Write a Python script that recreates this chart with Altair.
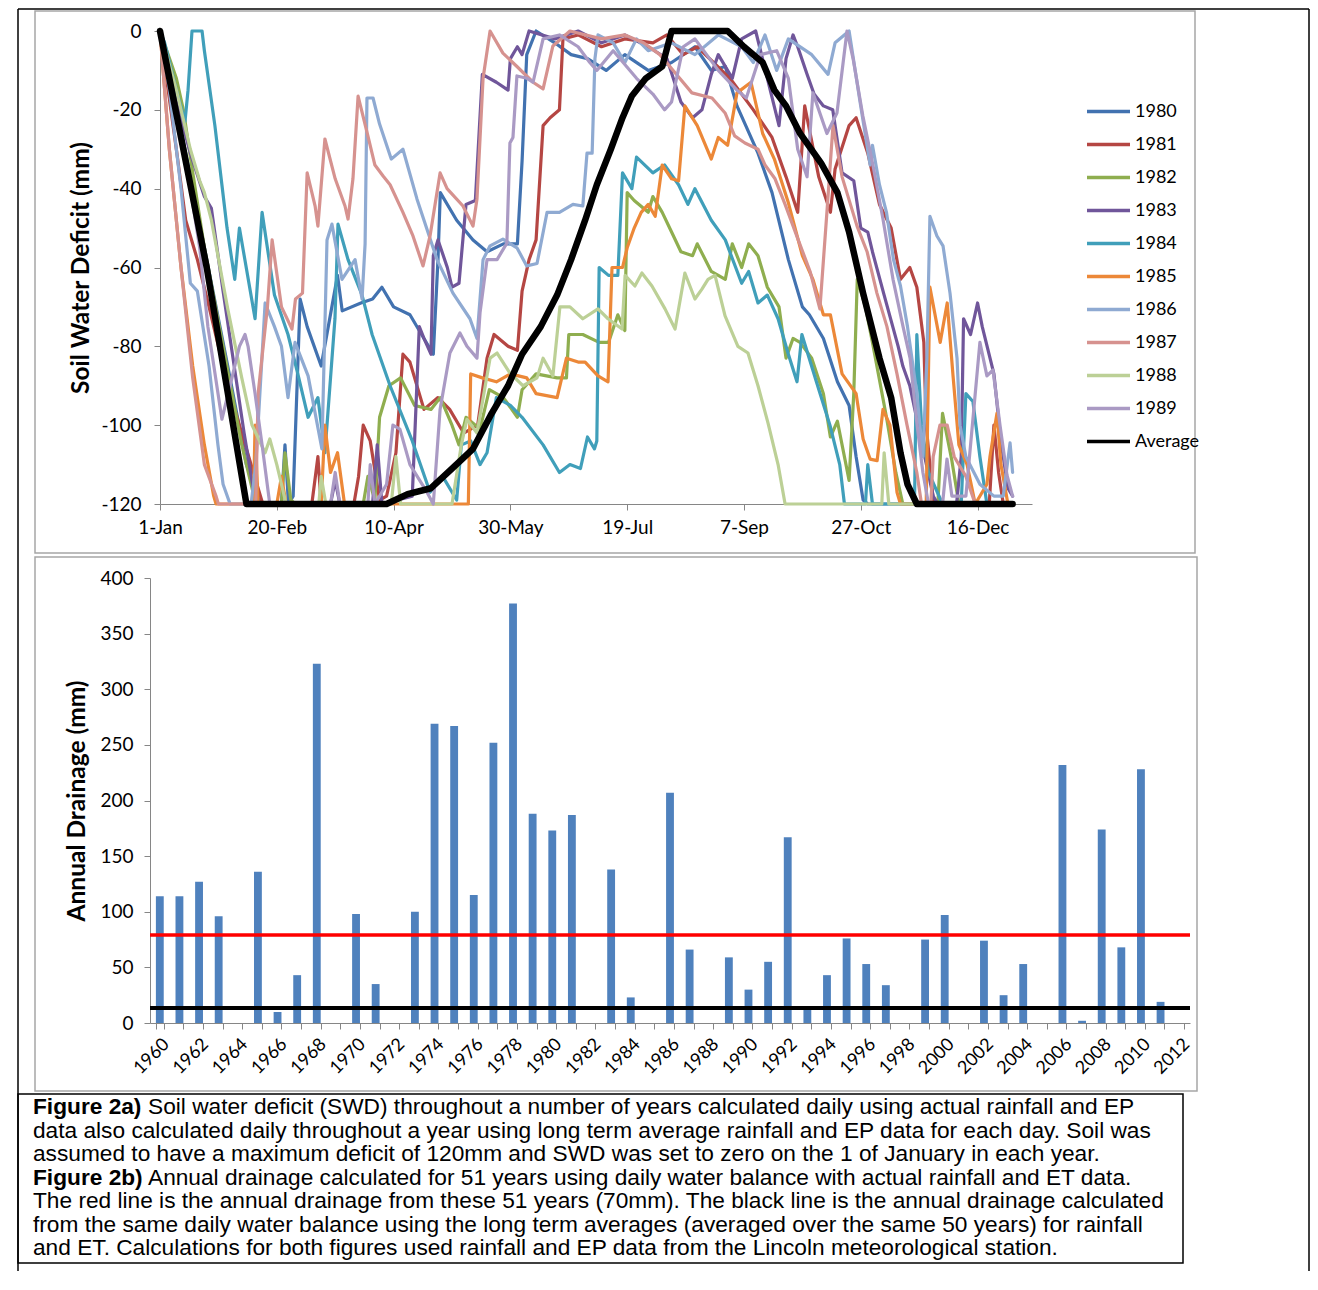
import altair as alt
import pandas as pd

FONT = "Lato"
GRAY = "#868686"

# ---------------- Figure 2a data (day of year, soil water deficit mm) ----------------
series_names = ["1980", "1981", "1982", "1983", "1984", "1985", "1986", "1987", "1988", "1989", "Average"]
series_colors = ["#4272B0", "#B54643", "#8FAE4F", "#70569A", "#409FBA", "#EC8838",
                 "#8FAAD2", "#D6928F", "#BCD096", "#AA9AC4", "#000000"]

tick_days = [1, 51, 101, 151, 201, 251, 301, 351]
tick_labels = ["1-Jan", "20-Feb", "10-Apr", "30-May", "19-Jul", "7-Sep", "27-Oct", "16-Dec"]
swd_ticks = [-120, -100, -80, -60, -40, -20, 0]

d1980 = [1, 10, 20, 30, 38, 44, 53, 54.5, 56, 58, 61, 64, 70, 77, 79, 87, 92, 96, 101, 108, 114, 118, 120, 121, 128, 135, 141, 148, 154, 156, 158, 162, 170, 177, 184, 192, 200, 210, 220, 230, 237, 243, 248, 257, 263, 270, 276, 279, 285, 291, 296, 299, 302, 304, 366]
v1980 = [0, -25, -55, -85, -110, -120, -120, -105, -120, -118, -68, -75, -85, -62, -71, -69, -68, -65, -70, -72, -78, -82, -58, -41, -48, -53, -56, -54, -54, -33, -6, 0, -3, -6, -7, -10, -6, -10, -8, -4, -10, -9, -19, -31, -41, -58, -70, -72, -78, -89, -95, -108, -119, -120, -120]

d1981 = [1, 8, 12, 17, 22, 30, 40, 45, 66, 68.6, 70, 84, 86, 88, 91, 95, 98, 102, 105, 108, 114, 120, 125, 131, 137, 141, 144, 150, 154, 156, 159, 162, 165, 168, 172, 173.5, 180, 190, 200, 212, 218, 225, 231, 245, 255, 263, 269, 274, 277, 283, 288, 290, 296, 299, 304, 309, 314, 318, 322, 325, 328, 329, 332, 334, 356, 358, 360, 362, 366]
v1981 = [0, -30, -48, -58, -70, -90, -110, -120, -120, -108, -120, -120, -113, -100, -104, -119, -118, -107, -82, -84, -96, -93, -96, -102, -100, -83, -77, -80, -81, -66, -58, -53, -24, -22, -20, -2, -1, -4, -2, -3, -1, -6, -4, -12, -20, -27, -37, -46, -19, -37, -46, -35, -24, -22, -31, -44, -50, -63, -60, -65, -79, -100, -119, -120, -120, -100, -112, -120, -120]

d1982 = [1, 8, 11, 14, 20, 28, 36, 42, 53, 54.5, 57, 59, 88, 90, 93, 95, 99, 104, 110, 117, 121, 126, 129, 132, 138, 142, 148, 154, 156, 162, 171, 175, 176, 182, 189, 193, 197, 200, 201, 204, 210, 212, 216, 220, 224, 229, 231, 237, 240, 243, 246, 250, 253, 257, 261, 266, 269, 272, 275, 280, 285, 288, 291, 296, 298, 299.5, 303, 306, 312, 316, 319, 334, 336, 340, 343, 366]
v1982 = [0, -12, -20, -32, -55, -80, -105, -120, -120, -107, -119, -120, -120, -113, -119, -98, -90, -88, -95, -96, -93, -100, -105, -98, -101, -91, -93, -98, -91, -87, -88, -88, -77, -77, -79, -79, -72, -76, -41, -43, -46, -42, -46, -51, -56, -57, -54, -61, -62, -63, -54, -60, -54, -57, -65, -70, -83, -78, -79, -83, -92, -103, -99, -114, -92, -63, -70, -79, -98, -112, -120, -120, -97, -109, -120, -120]

d1983 = [1, 8, 14, 20, 23, 28, 37, 42, 74, 76, 78, 92, 94, 96, 109, 112, 114, 117, 118, 120, 124, 126, 129, 132, 136, 139, 145, 150, 151, 154, 156, 159, 170, 180, 190, 200, 210, 218, 224, 229, 233, 237, 240, 246, 250, 256, 261, 266, 269, 272, 274, 278, 281, 285, 289, 293, 298, 301, 304, 306, 311, 317, 319, 322, 328, 332, 334, 342, 344, 345, 348, 351, 353, 358, 361, 364, 366]
v1983 = [0, -18, -31, -42, -45, -66, -102, -120, -120, -114, -120, -120, -105, -120, -118, -75, -78, -82, -57, -53, -60, -65, -64, -44, -43, -11, -13, -15, -7, -4, -6, 0, -2, 0, -3, -1, -4, -7, -18, -22, -20, -11, -6, -12, -2, 0, -12, -24, -7, -1, -4, -11, -16, -19, -20, -36, -38, -50, -51, -56, -67, -80, -85, -90, -107, -118, -120, -120, -108, -73, -77, -69, -75, -87, -104, -116, -118]

d1984 = [1, 3, 8, 11.7, 13, 14.7, 19, 20, 24.5, 27.5, 29.7, 33, 35, 41.7, 44.7, 50, 55.8, 60, 64.4, 68.6, 71.6, 75.9, 77.2, 81.5, 87.5, 91.8, 99.5, 109, 116.6, 122, 128, 130, 134, 138, 141, 145, 151, 156, 165, 172, 176.5, 181, 184, 187, 188, 189, 193, 197, 199, 203, 205, 212, 217, 223, 227, 230, 237, 243, 250, 253, 257, 261, 265.6, 270, 273.7, 275.8, 282, 287.8, 292, 294, 303, 304, 306, 324, 325, 327, 330, 336, 344, 346, 349, 352, 355, 366]
v1984 = [0, -3, -15, -23, -15, 0, 0, -5, -24, -39, -50, -63, -50, -73, -46, -67, -77, -87, -98, -93, -107, -73, -49, -58, -67, -77, -90, -104, -117, -113, -119, -105, -104, -110, -107, -93, -95, -98, -105, -112, -110, -111, -103, -106, -104, -60, -62, -62, -36, -40, -32, -36, -34, -39, -44, -40, -48, -53, -64, -61, -69, -67, -73, -82, -89, -77, -89, -100, -110, -120, -120, -110, -120, -120, -77, -100, -112, -120, -120, -92, -94, -108, -120, -120]

d1985 = [1, 5, 10, 15, 20, 24, 25, 41, 41.7, 43, 51, 53, 55, 70, 71.6, 74, 77, 80, 133, 134, 139, 145, 151, 158, 162, 171, 175, 180, 183, 188.5, 192.8, 194.5, 199, 201, 204, 207, 210, 213, 216, 220, 223, 225.7, 231, 237, 240, 244, 248, 254, 259, 264, 270, 276, 280.5, 285, 288, 293, 299, 302, 305, 308, 310.5, 313.5, 316.5, 318, 329, 330.6, 335, 338, 340.5, 343, 346.5, 350, 355, 356.3, 359.3, 361, 364, 366]
v1985 = [0, -30, -60, -85, -105, -118, -120, -120, -100, -120, -120, -113, -120, -120, -100, -112, -107, -120, -120, -87, -88, -89, -87, -88, -92, -93, -83, -84, -84, -87.5, -89, -60, -60, -55, -50, -46, -44, -47, -34, -37.5, -38, -19, -24, -32.5, -27, -29, -15.7, -13, -26, -32.5, -43.6, -57, -63, -72, -72, -87, -92, -103.5, -108.6, -109, -96, -100, -117, -120, -120, -65, -79, -69, -87.5, -105, -110, -120, -115, -108, -97, -110, -120, -120]

d1986 = [1, 5, 10, 14, 17, 22, 25.8, 28, 31, 40, 42, 46, 50, 53, 55.8, 58.8, 64.4, 70.3, 72.5, 74.6, 78.9, 84.5, 87.5, 88.8, 89.6, 92.2, 95, 100, 105, 111, 119.6, 126.4, 133.7, 136.7, 139.3, 142.3, 147.8, 153.8, 158, 162.4, 166.7, 172, 177.8, 182, 183.8, 186, 187.2, 188.5, 195, 200, 205, 210, 220, 230, 240, 250, 255, 260, 265, 270, 280, 287, 290, 296, 300.7, 305, 306, 309, 312, 315, 318, 321, 325, 327.6, 329.3, 330.6, 333.6, 336.2, 339.2, 342.2, 343.5, 346, 352, 358, 362, 364.9, 366]
v1986 = [0, -15, -40, -64, -66, -85, -105, -115, -120, -120, -110, -69, -75, -80, -93, -79, -87.5, -106, -53, -49, -63, -58, -68, -54, -17, -17, -23.6, -32.5, -30, -42.6, -58, -66.5, -73, -78, -58, -54.5, -52.8, -55, -59.6, -59, -46, -46, -44, -44.4, -31, -31, -7, -1, -3, -8, -2, -5, -3, -6, -1, -4, -8, -1, -10, -2, -6, -11, -3, 0, -18, -34, -29, -39, -46, -58, -64.7, -75, -92, -108, -83, -47, -52, -54.5, -66.5, -83, -100, -108, -115, -118, -118, -104.5, -112]

d1987 = [1, 5, 10, 15, 20, 25, 26, 42, 43, 47, 49, 53, 57.5, 59, 62, 64, 67.4, 68.6, 71.6, 76, 80.2, 81.5, 83.6, 85.8, 90, 93, 96.5, 99.5, 105, 109.3, 113.6, 116.6, 120.9, 123.9, 130.7, 135, 136.7, 139.3, 142.3, 147.8, 153.8, 160.7, 165, 169.2, 176.5, 190, 200, 208, 215, 221.5, 228.7, 237.3, 242.9, 247, 251.4, 257, 260, 264.3, 268.6, 274.1, 279.3, 283.5, 286.5, 289.1, 293, 299.4, 303.7, 307.9, 312.2, 316.5, 320.8, 325, 327, 331, 332, 334.9, 338, 341, 346, 350, 366]
v1987 = [0, -30, -60, -88, -110, -118, -120, -120, -92, -70, -53, -70, -75.6, -68, -66.5, -36, -44.4, -49.5, -27.4, -37.5, -44.4, -47.7, -37.5, -16.5, -26.6, -34, -36.8, -39, -46, -52, -59.6, -52, -36, -40, -44.4, -49.5, -42.6, -12, 0, -5.6, -9, -13, -14.7, -3.8, 0, -2, -1, -3, -6, -10.6, -15.7, -17, -20.8, -26.6, -28.4, -30, -34, -37.5, -44, -52.8, -61, -70.5, -46, -24, -37, -49.5, -56, -66.5, -75, -87, -100, -112, -120, -120, -108, -100, -100, -108, -113, -120, -120]

d1988 = [1, 8, 14, 18, 20, 23, 30, 36, 40.4, 46, 48, 51, 55, 69, 70, 72, 100, 102, 104, 126, 130, 132.4, 136.7, 142.3, 145.3, 150.8, 156.4, 162.4, 165, 169.2, 172.2, 176.5, 182, 188.5, 192.8, 198.8, 200.1, 204.3, 207.3, 211.6, 217.2, 221.5, 225.7, 230, 233, 235.6, 238.6, 242.9, 248.4, 252.7, 257, 261.3, 265.6, 268.6, 310, 311, 313, 366]
v1988 = [0, -15, -30, -38, -41, -48, -70.5, -88, -100, -107, -103.5, -110, -120, -120, -113, -120, -120, -108, -120, -120, -105, -98.5, -102, -83, -81.7, -86.8, -90, -88, -83, -87.5, -70, -70, -73, -70.5, -73, -75.6, -62, -64.7, -61.4, -64.7, -70.5, -75.6, -61.4, -68, -65.5, -63, -62, -72.3, -80, -81.7, -90, -99.5, -110, -120, -120, -107, -120, -120]

d1989 = [1, 8, 14, 18, 21.5, 27.5, 31, 35, 37.4, 38.7, 41.7, 44.7, 48, 74, 76, 78, 90, 91, 93, 98, 100.7, 103.7, 108, 115.3, 118, 120.9, 125.1, 129.4, 132.4, 136.7, 138, 141, 145.3, 149.5, 150.8, 152.1, 153.8, 158.1, 160.7, 165, 172, 180, 185, 188, 195, 205, 212, 217, 220, 225, 230, 240, 248, 252, 258, 265, 270, 274, 278, 280.5, 286.5, 290.8, 295.1, 297.7, 301.9, 306.2, 310.5, 314.8, 319.1, 322.1, 325.1, 327.6, 330, 336, 337.9, 340, 346, 352, 355, 357.6, 360.6, 363.6, 366]
v1989 = [0, -20, -40, -55, -75, -98.5, -90, -80, -77, -80, -92, -105, -120, -120, -112, -120, -120, -110, -120, -115, -100, -101, -110, -117, -120, -96, -81.7, -76.6, -80, -83, -71.5, -58, -58, -53.8, -28.4, -27, -11.4, -12, -13, -2, -1, -4, -8, -10, -5, -12, -16, -20, -18, -4, -2, -10, -15, -17, -6, -5, -12, -30, -37, -15.7, -26, -20.8, 0, -7, -21.6, -34, -47.7, -63, -75, -83, -100, -112, -120, -120, -108.6, -118, -118, -79, -87.5, -86, -100, -112.7, -118]

d_avg = [1, 21, 38, 98, 107, 117, 126, 135, 143, 150, 156, 164, 171, 177, 183, 188, 194, 199, 203, 209, 216, 220, 244, 251, 259, 264, 269, 275, 284, 291, 296, 302, 309, 314, 318, 321, 325, 366]
v_avg = [0, -60, -120, -120, -117.5, -116, -111, -106, -97, -90, -82, -75, -67, -58, -48, -39, -30, -22, -16.5, -12, -9, 0, 0, -4, -8, -15, -19, -26, -33.5, -41, -51, -66.5, -83, -93, -107, -115, -120, -120]

# ---------------- Figure 2b data ----------------
years = ["1960", "1961", "1962", "1963", "1964", "1965", "1966", "1967", "1968", "1969",
         "1970", "1971", "1972", "1973", "1974", "1975", "1976", "1977", "1978", "1979",
         "1980", "1981", "1982", "1983", "1984", "1985", "1986", "1987", "1988", "1989",
         "1990", "1991", "1992", "1993", "1994", "1995", "1996", "1997", "1998", "1999",
         "2000", "2001", "2002", "2003", "2004", "2005", "2006", "2007", "2008", "2009",
         "2010", "2011", "2012"]
drainage = [114, 114, 127, 96, 0, 136, 10, 43, 323, 0,
            98, 35, 0, 100, 269, 267, 115, 252, 377, 188,
            173, 187, 0, 138, 23, 0, 207, 66, 0, 59,
            30, 55, 167, 12, 43, 76, 53, 34, 0, 75,
            97, 0, 74, 25, 53, 0, 232, 2, 174, 68,
            228, 19, 0]
drain_ticks = [0, 50, 100, 150, 200, 250, 300, 350, 400]
mean_drainage = [79]
longterm_drainage = [13.5]

caption_lines = [
    "Soil water deficit (SWD) throughout a number of years calculated daily using actual rainfall and EP",
    "data also calculated daily throughout a year using long term average rainfall and EP data for each day. Soil was",
    "assumed to have a maximum deficit of 120mm and SWD was set to zero on the 1 of January in each year.",
    "Annual drainage calculated for 51 years using daily water balance with actual rainfall and ET data.",
    "The red line is the annual drainage from these 51 years (70mm). The black line is the annual drainage calculated",
    "from the same daily water balance using the long term averages (averaged over the same 50 years) for rainfall",
    "and ET. Calculations for both figures used rainfall and EP data from the Lincoln meteorological station.",
]
caption_bold = ["Figure 2a)", "Figure 2b)"]
caption_bold_lines = [0, 3]

# ---------------- build tables ----------------
day_lists = [d1980, d1981, d1982, d1983, d1984, d1985, d1986, d1987, d1988, d1989]
val_lists = [v1980, v1981, v1982, v1983, v1984, v1985, v1986, v1987, v1988, v1989]
rows = []
for name, ds, vs in zip(series_names[:10], day_lists, val_lists):
    for d, v in zip(ds, vs):
        rows.append({"series": name, "day": d, "swd": v})
years_df = pd.DataFrame(rows)
avg_df = pd.DataFrame({"series": "Average", "day": d_avg, "swd": v_avg})

bars_df = pd.DataFrame({"year": years, "drain": drainage})
cap_df = pd.DataFrame({"idx": list(range(len(caption_lines))), "text": caption_lines})
bold_df = pd.DataFrame({"idx": caption_bold_lines, "text": caption_bold})
one = pd.DataFrame({"k": [0]})

label_js = "[" + ",".join("'" + t + "'" for t in tick_labels) + "]"


def vline(x, y1, y2, color="black", w=1.5):
    return alt.Chart(one).mark_rule(color=color, strokeWidth=w).encode(
        x=alt.value(x), y=alt.value(y1), y2=alt.value(y2))


def hline(y, x1, x2, color="black", w=1.5):
    return alt.Chart(one).mark_rule(color=color, strokeWidth=w).encode(
        y=alt.value(y), x=alt.value(x1), x2=alt.value(x2))


def box(x1, x2, y1, y2, color, w):
    return alt.Chart(one).mark_rect(fillOpacity=0, stroke=color, strokeWidth=w).encode(
        x=alt.value(x1), x2=alt.value(x2), y=alt.value(y1), y2=alt.value(y2))


# All three panels share the same origin x (page x = 150); flush layout.
# ---------------- top chart (origin at page 150,30) ----------------
leg = alt.Legend(orient="none", legendX=935, legendY=57, title=None, symbolType="stroke",
                 symbolSize=1849, labelFont=FONT, labelFontSize=18, labelColor="black",
                 rowPadding=-1.2, labelOffset=3, symbolStrokeWidth=3.5)

xenc = alt.X("day:Q", scale=alt.Scale(domain=[1, 374.3], nice=False, zero=False, range=[10, 882]),
             axis=alt.Axis(values=tick_days, labelExpr=label_js + "[round((datum.value-1)/50)]",
                           title=None, grid=False, domainColor=GRAY, tickColor=GRAY, tickSize=6,
                           labelFont=FONT, labelFontSize=19, labelColor="black", labelPadding=8,
                           labelFlush=False, labelOverlap=False))
yenc = alt.Y("swd:Q", scale=alt.Scale(domain=[-120, 0], nice=False),
             axis=alt.Axis(values=swd_ticks, labelExpr="datum.value < 0 ? '-' + (-datum.value) : '0'",
                           title="Soil Water Deficit (mm)", titleFont=FONT, titleFontSize=24.5,
                           titleFontWeight="bold", titleColor="black", titlePadding=7, offset=-10,
                           grid=False, domainColor=GRAY, tickColor=GRAY, tickSize=6,
                           labelFont=FONT, labelFontSize=19, labelColor="black", labelPadding=13))
cenc = alt.Color("series:N", scale=alt.Scale(domain=series_names, range=series_colors), legend=leg)

year_lines = alt.Chart(years_df).mark_line(strokeWidth=3.2, strokeJoin="round", strokeCap="round").encode(
    x=xenc, y=yenc, color=cenc)
avg_line = alt.Chart(avg_df).mark_line(strokeWidth=6.5, strokeJoin="round", strokeCap="round").encode(
    x=xenc, y=yenc, color=cenc)

top = alt.layer(
    vline(-132, -22, 1240), vline(1159, -22, 1240), hline(-22, -132, 1159),
    box(-115, 1045, -20, 522, "#A6A6A6", 1.5),
    year_lines, avg_line,
).properties(width=882, height=473)

# ---------------- bottom chart (origin at page 150,577) ----------------
bars = alt.Chart(bars_df).mark_bar(color="#4F81BD").encode(
    x=alt.X("year:N", sort=None, scale=alt.Scale(paddingInner=0.6, paddingOuter=0.3),
            axis=alt.Axis(title=None, tickBand="extent", labelExpr="parseInt(datum.value) % 2 == 0 ? datum.label : ''",
                          labelAngle=-45, labelAlign="right", labelBaseline="top", labelPadding=6,
                          labelFont=FONT, labelFontSize=18, labelColor="black", domainColor=GRAY,
                          tickColor=GRAY, tickSize=6, labelOverlap=False)),
    y=alt.Y("drain:Q", scale=alt.Scale(domain=[0, 400], nice=False),
            axis=alt.Axis(values=drain_ticks, title="Annual Drainage (mm)", titleFont=FONT, titleFontSize=24.5,
                          titleFontWeight="bold", titleColor="black", titlePadding=10, grid=False,
                          domainColor=GRAY, tickColor=GRAY, tickSize=6, labelFont=FONT, labelFontSize=19,
                          labelColor="black", labelPadding=11)),
)
red = alt.Chart(pd.DataFrame({"v": mean_drainage})).mark_rule(color="#FF0000", strokeWidth=3.5).encode(y="v:Q")
blk = alt.Chart(pd.DataFrame({"v": longterm_drainage})).mark_rule(color="#000000", strokeWidth=4).encode(y="v:Q")

bottom = alt.layer(
    box(-115, 1047, -21, 513, "#A6A6A6", 1.5),
    bars, red, blk,
).properties(width=1040, height=445)

# ---------------- caption (origin at page 150,1096) ----------------
ypos = alt.Y("idx:Q", scale=alt.Scale(domain=[0, 6], range=[10, 151]), axis=None)
cap_text = alt.Chart(cap_df).transform_calculate(
    xp="datum.idx == 0 || datum.idx == 3 ? -2 : -117"
).mark_text(align="left", baseline="middle", font="Liberation Sans", fontSize=22.7, color="black").encode(
    x=alt.X("xp:Q", scale=None, axis=None), y=ypos, text="text:N")
bold_text = alt.Chart(bold_df).mark_text(align="left", baseline="middle", font="Liberation Sans",
                                          fontSize=22.7, fontWeight="bold", color="black").encode(
    x=alt.value(-117), y=ypos, text="text:N")

caption = alt.layer(
    box(-132, 1033, -3, 166, "black", 1.5),
    cap_text, bold_text,
).properties(width=1040, height=166)

chart = alt.vconcat(top, bottom, caption, spacing=74, bounds="flush").configure_view(stroke=None).properties(
    padding={"left": 9, "top": 0, "right": 0, "bottom": 0})

chart.save("out.html", embed_options={"renderer": "svg", "actions": False})
